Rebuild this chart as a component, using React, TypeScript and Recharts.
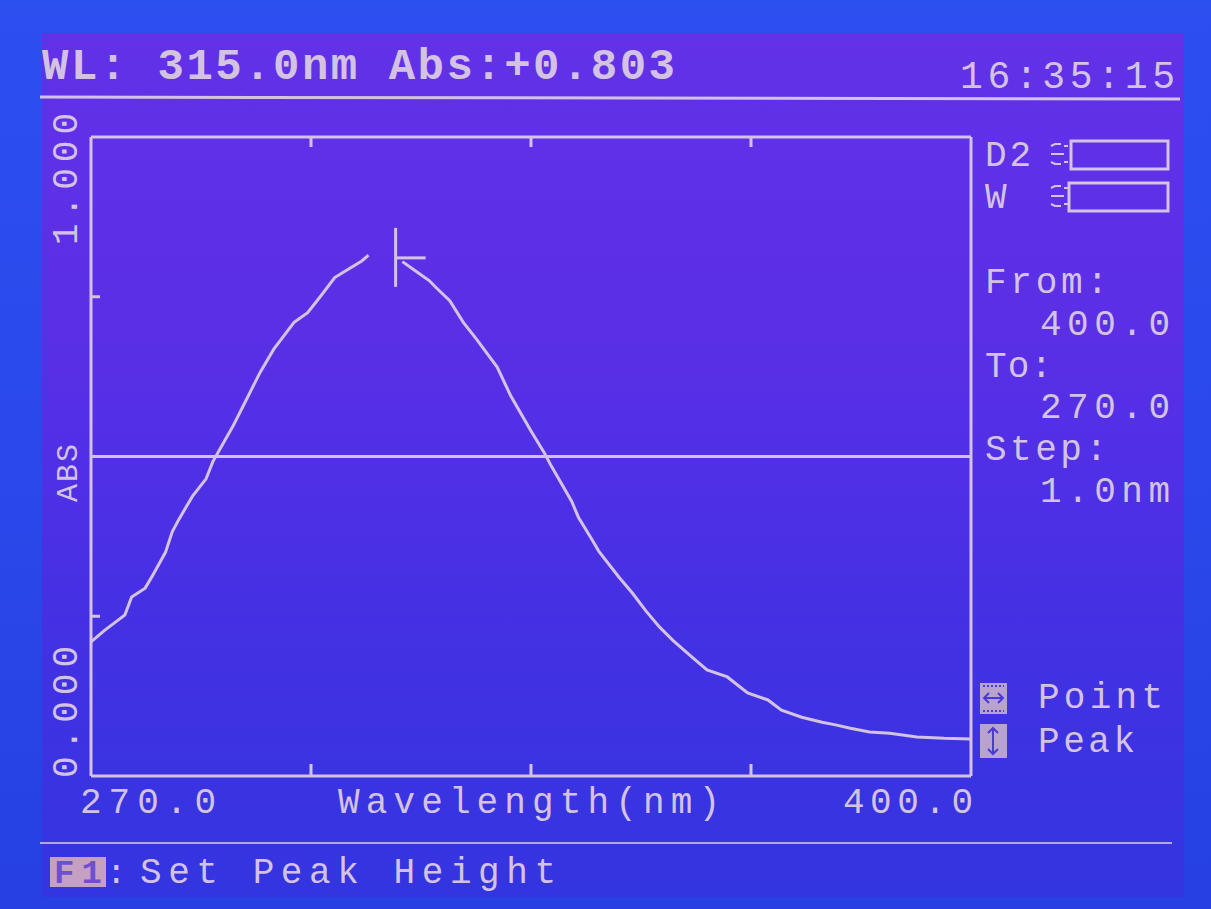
import React from "react";
import { LineChart, Line, XAxis, YAxis, ReferenceLine, ReferenceDot } from "recharts";

// scan 400.0 -> 270.0 nm, 1.0 nm step
const wavelengths = [
  270, 272, 274, 275, 276, 278, 279, 281, 282, 283, 285, 287, 288, 291, 293, 295, 297, 300, 302, 304,
  306, 308, 310, 311, 313, 316, 318, 320, 321, 323, 325, 327, 330, 332, 335, 337, 338, 341, 342, 344,
  345, 348, 350, 352, 354, 356, 359, 361, 364, 367, 370, 372, 375, 378, 380, 382, 385, 388, 392, 396,
  400,
];
// null = pixels wiped by the cursor
const absorbance = [
  0.21, 0.228, 0.244, 0.252, 0.28, 0.294, 0.312, 0.35, 0.382, 0.402, 0.438, 0.465, 0.492, 0.548, 0.59, 0.632, 0.668, 0.71, 0.725, 0.752,
  0.78, 0.793, 0.806, 0.815, null, 0.805, 0.79, 0.775, 0.764, 0.744, 0.71, 0.683, 0.64, 0.595, 0.54, 0.505, 0.485, 0.43, 0.405, 0.37,
  0.352, 0.311, 0.286, 0.258, 0.233, 0.212, 0.184, 0.166, 0.155, 0.13, 0.119, 0.103, 0.092, 0.084, 0.08, 0.075, 0.069, 0.067, 0.061, 0.059,
  0.058,
];

const xTicks = [270, 302.5, 335, 367.5, 400];
const yTicks = [0, 0.25, 0.5, 0.75, 1];
const cursorWl = 315.0;
const cursorAbs = 0.803;
const clock = "16:35:15";
const scanFrom = "400.0";
const scanTo = "270.0";
const scanStep = "1.0nm";

const data = wavelengths.map((wl, i) => ({ wl, abs: absorbance[i] }));

const FG = "#d4c2e2";
const FONT = "'Liberation Mono', 'DejaVu Sans Mono', monospace";

const BottomTick = (props: any) => {
  const { x, y, payload } = props;
  const v = payload.value;
  if (v === 270) {
    return (
      <text x={x - 11} y={y + 37} fill={FG} fontFamily={FONT} fontSize={36} textLength={136}>
        {v.toFixed(1)}
      </text>
    );
  }
  if (v === 400) {
    return (
      <text x={x - 128} y={y + 37} fill={FG} fontFamily={FONT} fontSize={36} textLength={130}>
        {v.toFixed(1)}
      </text>
    );
  }
  return <line x1={x} y1={y} x2={x} y2={y - 12} stroke={FG} strokeWidth={3} />;
};

const TopTick = (props: any) => {
  const { x, y, payload } = props;
  if (payload.value === 270 || payload.value === 400) return null;
  return <line x1={x} y1={y} x2={x} y2={y + 10} stroke={FG} strokeWidth={3} />;
};

const LeftTick = (props: any) => {
  const { x, y, payload } = props;
  const v = payload.value;
  if (v === 0 || v === 1) {
    const by = v === 0 ? y + 2 : y + 108;
    return (
      <text
        x={x - 14}
        y={by}
        transform={`rotate(-90, ${x - 14}, ${by})`}
        fill={FG}
        fontFamily={FONT}
        fontSize={36}
        textLength={132}
      >
        {v.toFixed(3)}
      </text>
    );
  }
  if (v === 0.5) return null;
  return <line x1={x} y1={y} x2={x + 9} y2={y} stroke={FG} strokeWidth={3} />;
};

const RightTick = (props: any) => {
  const { x, y, payload } = props;
  const v = payload.value;
  if (v !== 0.25 && v !== 0.75) return null;
  return <line x1={x} y1={y} x2={x - 9} y2={y} stroke={FG} strokeWidth={3} />;
};

const Cursor = (props: any) => {
  const { cx, cy } = props;
  return (
    <g stroke={FG} strokeWidth={3}>
      <line x1={cx} y1={cy - 35} x2={cx} y2={cy + 24} />
      <line x1={cx} y1={cy - 5} x2={cx + 30} y2={cy - 5} />
    </g>
  );
};

function Panel() {
  const txt = (s: string, x: number, y: number, len: number, size = 36, extra: any = {}) => (
    <text x={x} y={y} fill={FG} fontFamily={FONT} fontSize={size} textLength={len} {...extra}>
      {s}
    </text>
  );
  const lampMark = (y: number) => (
    <g stroke={FG} strokeWidth={2}>
      <path d={`M1051 ${y} l4 -2 l6 0`} fill="none" />
      <line x1={1051} y1={y + 8} x2={1064} y2={y + 8} />
      <path d={`M1051 ${y + 16} l4 2 l6 0`} fill="none" />
      <line x1={1064} y1={y} x2={1068} y2={y} />
      <line x1={1064} y1={y + 16} x2={1068} y2={y + 16} />
    </g>
  );
  return (
    <svg width={1211} height={909} style={{ position: "absolute", left: 0, top: 0 }}>
      {txt(`WL: ${cursorWl.toFixed(1)}nm Abs:+${cursorAbs.toFixed(3)}`, 42, 79, 633, 44, { fontWeight: "bold" })}
      {txt(clock, 960, 88, 215, 38)}
      <line x1={40} y1={97} x2={1180} y2={99} stroke={FG} strokeWidth={3} />

      {txt("D2", 985, 166, 46)}
      {lampMark(146)}
      <rect x={1071} y={141} width={97} height={28} fill="none" stroke={FG} strokeWidth={3} />
      {txt("W", 985, 208, 25)}
      {lampMark(188)}
      <rect x={1069} y={183} width={99} height={28} fill="none" stroke={FG} strokeWidth={3} />

      {txt("From:", 985, 293, 123)}
      {txt(scanFrom, 1040, 335, 130)}
      {txt("To:", 985, 377, 67)}
      {txt(scanTo, 1040, 418, 130)}
      {txt("Step:", 985, 460, 122)}
      {txt(scanStep, 1040, 502, 130)}

      <rect x={980} y={683} width={27} height={31} fill="#b8a3cf" />
      <g stroke="#4a3ad8" strokeWidth={2} fill="none">
        <line x1={983} y1={686} x2={1004} y2={686} strokeDasharray="2 2" />
        <line x1={983} y1={711} x2={1004} y2={711} strokeDasharray="2 2" />
        <line x1={984} y1={698} x2={1003} y2={698} />
        <path d="M989 693 l-5 5 l5 5 M998 693 l5 5 l-5 5" />
      </g>
      {txt("Point", 1038, 708, 125)}
      <rect x={980} y={724} width={27} height={34} fill="#b8a3cf" />
      <g stroke="#4a3ad8" strokeWidth={2} fill="none">
        <line x1={993} y1={728} x2={993} y2={754} />
        <path d="M988 733 l5 -5 l5 5 M988 749 l5 5 l5 -5" />
      </g>
      {txt("Peak", 1038, 752, 97)}

      {txt("ABS", 77, 502, 58, 30, { transform: "rotate(-90, 77, 502)" })}
      {txt("Wavelength(nm)", 338, 813, 382)}

      <line x1={40} y1={843} x2={1172} y2={843} stroke={FG} strokeWidth={2} opacity={0.8} />
      <rect x={50} y={857} width={56} height={30} fill="#c6a0c2" />
      <text x={54} y={883} fill="#6d4fd0" fontFamily={FONT} fontSize={34} fontWeight="bold" textLength={48}>
        F1
      </text>
      {txt(":", 106, 883, 20, 34)}
      {txt("Set Peak Height", 140, 883, 416, 36)}
    </svg>
  );
}

export default function App() {
  return (
    <div
      style={{
        position: "fixed",
        left: 0,
        top: 0,
        width: 1211,
        height: 909,
        overflow: "hidden",
        background: "linear-gradient(180deg, #2c4ff0 0%, #2a47ea 60%, #2640e2 100%)",
      }}
    >
      <div
        style={{
          position: "absolute",
          left: 42,
          top: 33,
          width: 1142,
          height: 864,
          background: "linear-gradient(180deg, #6231e8 0%, #5a2fe6 35%, #4630e4 65%, #3335e0 100%)",
        }}
      />
      <Panel />
      <div style={{ position: "absolute", left: 0, top: 0 }}>
        <LineChart width={1211} height={909} data={data} margin={{ top: 136, right: 239, bottom: 132, left: 90 }}>
          <XAxis
            dataKey="wl"
            type="number"
            domain={[270, 400]}
            ticks={xTicks}
            interval={0}
            height={1}
            tickSize={0}
            tickMargin={0}
            tickLine={false}
            axisLine={{ stroke: FG, strokeWidth: 3 }}
            tick={<BottomTick />}
          />
          <XAxis
            xAxisId="top"
            orientation="top"
            dataKey="wl"
            type="number"
            domain={[270, 400]}
            ticks={xTicks}
            interval={0}
            height={1}
            tickSize={0}
            tickMargin={0}
            tickLine={false}
            axisLine={{ stroke: FG, strokeWidth: 3 }}
            tick={<TopTick />}
          />
          <YAxis
            type="number"
            domain={[0, 1]}
            ticks={yTicks}
            interval={0}
            width={1}
            tickSize={0}
            tickMargin={0}
            tickLine={false}
            axisLine={{ stroke: FG, strokeWidth: 3 }}
            tick={<LeftTick />}
          />
          <YAxis
            yAxisId="right"
            orientation="right"
            type="number"
            domain={[0, 1]}
            ticks={yTicks}
            interval={0}
            width={1}
            tickSize={0}
            tickMargin={0}
            tickLine={false}
            axisLine={{ stroke: FG, strokeWidth: 3 }}
            tick={<RightTick />}
          />
          <ReferenceLine y={0.5} stroke={FG} strokeWidth={3} />
          <Line
            type="linear"
            dataKey="abs"
            stroke={FG}
            strokeWidth={3}
            dot={false}
            connectNulls={false}
            isAnimationActive={false}
          />
          <ReferenceDot x={cursorWl} y={cursorAbs} shape={<Cursor />} />
        </LineChart>
      </div>
    </div>
  );
}
